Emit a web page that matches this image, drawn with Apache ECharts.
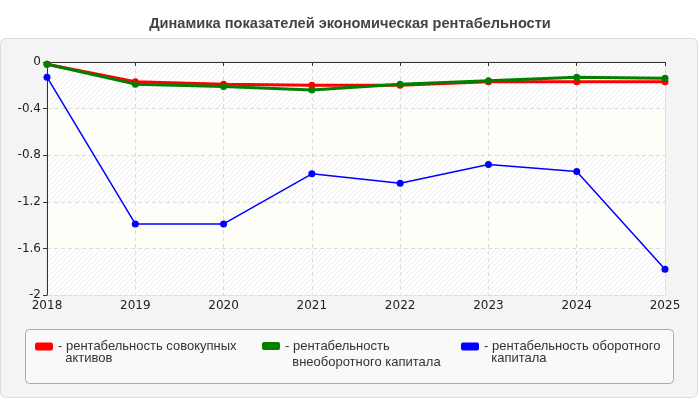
<!DOCTYPE html>
<html>
<head>
<meta charset="utf-8">
<script src="https://cdn.jsdelivr.net/npm/echarts@6/dist/echarts.min.js"></script>
<style>
html, body { margin: 0; padding: 0; background: #fff; }
#chart { width: 700px; height: 400px; }
</style>
</head>
<body>
<div id="chart"></div>
<script>
var years = ['2018', '2019', '2020', '2021', '2022', '2023', '2024', '2025'];
var seriesNames = [
    'рентабельность совокупных активов',
    'рентабельность внеоборотного капитала',
    'рентабельность оборотного капитала'
];
// leading empty line keeps the first text line level with the icon
var legendLabels = [
    '\n- рентабельность совокупных\n  активов',
    '\n- рентабельность\n  внеоборотного капитала',
    '\n- рентабельность оборотного\n  капитала'
];
var totalAssets = [-0.02, -0.17, -0.19, -0.20, -0.20, -0.17, -0.17, -0.17];
var fixedCapital = [-0.02, -0.19, -0.21, -0.24, -0.19, -0.16, -0.13, -0.14];
var workingCapital = [-0.13, -1.39, -1.39, -0.96, -1.04, -0.88, -0.94, -1.78];
var colors = ['#ff0000', '#008000', '#0000ff'];

// hatch pattern for the stripes
var hatch = document.createElement('canvas');
hatch.width = 5; hatch.height = 5;
var hc = hatch.getContext('2d');
hc.fillStyle = '#ffffff';
hc.fillRect(0, 0, 5, 5);
hc.strokeStyle = '#ebebeb';
hc.lineWidth = 1;
hc.beginPath();
hc.moveTo(0, 5); hc.lineTo(5, 0);
hc.moveTo(-1, 1); hc.lineTo(1, -1);
hc.moveTo(4, 6); hc.lineTo(6, 4);
hc.stroke();

var myChart = echarts.init(document.getElementById('chart'));

function makeSeries(i, data, width) {
    return {
        name: seriesNames[i],
        type: 'line',
        data: data,
        symbol: 'circle',
        symbolSize: 7,
        lineStyle: { color: colors[i], width: width },
        itemStyle: { color: colors[i] },
        animation: false
    };
}

function makeLegend(i, left, top, lh) {
    return {
        data: [seriesNames[i]],
        left: left,
        top: top,
        icon: 'roundRect',
        itemWidth: 18,
        itemHeight: 8,
        itemGap: 0,
        padding: 0,
        formatter: function () { return legendLabels[i]; },
        textStyle: {
            fontFamily: 'Liberation Sans, Arial',
            fontSize: 13,
            color: '#333',
            lineHeight: lh
        }
    };
}

myChart.setOption({
    backgroundColor: '#ffffff',
    title: {
        text: 'Динамика показателей экономическая рентабельности',
        left: 'center',
        top: 11,
        textStyle: {
            fontFamily: 'Liberation Sans, Arial',
            fontSize: 14.6,
            fontWeight: 'bold',
            color: '#444'
        }
    },
    graphic: [
        {
            type: 'rect',
            z: -10,
            shape: { x: 0.5, y: 38.5, width: 697, height: 359, r: 5 },
            style: { fill: '#f4f4f4', stroke: '#dddddd', lineWidth: 1 }
        },
        {
            type: 'rect',
            z: -9,
            shape: { x: 25.5, y: 329.5, width: 648, height: 54, r: 4 },
            style: { fill: '#f9f9f9', stroke: '#aaaaaa', lineWidth: 1 }
        }
    ],
    legend: [makeLegend(0, 35, 328, 12), makeLegend(1, 262, 322, 16), makeLegend(2, 461, 328, 12)],
    grid: {
        left: 47,
        right: 35,
        top: 62,
        bottom: 105,
        show: true,
        borderColor: '#dddddd',
        borderWidth: 1,
        backgroundColor: 'transparent'
    },
    xAxis: {
        type: 'category',
        data: years,
        boundaryGap: false,
        axisLine: { lineStyle: { color: '#333', width: 1 } },
        axisTick: { show: true, length: 4, lineStyle: { color: '#333' } },
        axisLabel: {
            fontFamily: 'DejaVu Sans, Verdana',
            fontSize: 12,
            color: '#222',
            margin: 5
        },
        splitLine: { show: true, lineStyle: { color: '#dddddd', type: [4, 3] } }
    },
    yAxis: {
        type: 'value',
        min: -2,
        max: 0,
        interval: 0.4,
        axisLine: { show: true, lineStyle: { color: '#333', width: 1 } },
        axisTick: { show: true, length: 4, lineStyle: { color: '#333' } },
        axisLabel: {
            fontFamily: 'DejaVu Sans, Verdana',
            fontSize: 12,
            color: '#222',
            margin: 6,
            formatter: function (v) { return String(Math.round(v * 10) / 10); }
        },
        splitLine: { show: true, lineStyle: { color: '#dddddd', type: [4, 3] } },
        splitArea: {
            show: true,
            areaStyle: {
                color: [
                    { image: hatch, repeat: 'repeat' },
                    '#fefef9'
                ]
            }
        }
    },
    series: [
        makeSeries(0, totalAssets, 3),
        makeSeries(1, fixedCapital, 3),
        makeSeries(2, workingCapital, 1.5)
    ]
});
</script>
</body>
</html>
